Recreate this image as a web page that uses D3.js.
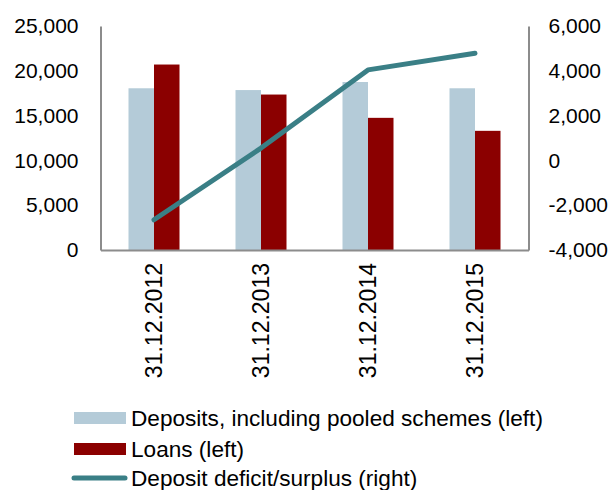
<!DOCTYPE html>
<html><head><meta charset="utf-8">
<script src="https://cdn.jsdelivr.net/npm/d3@7"></script>
<style>body{margin:0;background:#fff}svg{display:block;font-family:"Liberation Sans",Arial,sans-serif}</style>
</head><body><svg id="c" width="614" height="490"></svg>
<script>
const categories = ["31.12.2012","31.12.2013","31.12.2014","31.12.2015"];
const deposits = [18050, 17850, 18750, 18050];
const loans = [20700, 17350, 14750, 13300];
const surplus = [-2650, 550, 4040, 4780];
const leftTicks = [0, 5000, 10000, 15000, 20000, 25000];
const rightTicks = [-4000, -2000, 0, 2000, 4000, 6000];
const seriesNames = ["Deposits, including pooled schemes (left)", "Loans (left)", "Deposit deficit/surplus (right)"];
const colors = ["#b4cbd8", "#8b0000", "#3a7f86"];

const svg = d3.select("#c");
const L = 100.5, R = 528.5, T = 26, B = 250;
const x = d3.scaleBand().domain(categories).range([L, R]);
const yL = d3.scaleLinear().domain([0, 25000]).range([B, T]);
const yR = d3.scaleLinear().domain([-4000, 6000]).range([B, T]);
const fmt = d => d3.format(",")(d).replace("\u2212", "-");

// bars
const bw = 25.5;
const sub = d3.scaleBand().domain([0,1]).range([x.bandwidth()/2 - bw, x.bandwidth()/2 + bw]);
[deposits, loans].forEach((arr, si) => {
  svg.append("g").selectAll("rect").data(arr).join("rect")
    .attr("x", (d,i) => x(categories[i]) + sub(si))
    .attr("width", sub.bandwidth())
    .attr("y", d => yL(d))
    .attr("height", d => yL(0) - yL(d))
    .attr("fill", colors[si]);
});

// axes
const axCol = "#8c8c8c";
const gl = svg.append("g").attr("transform", `translate(${L},0)`)
  .call(d3.axisLeft(yL).tickValues(leftTicks).tickFormat(fmt).tickSize(0).tickPadding(22));
const gr = svg.append("g").attr("transform", `translate(${R},0)`)
  .call(d3.axisRight(yR).tickValues(rightTicks).tickFormat(fmt).tickSize(0).tickPadding(20));
const gb = svg.append("g").attr("transform", `translate(0,${B})`)
  .call(d3.axisBottom(x).tickSize(0).tickFormat(""));
[gl, gr, gb].forEach(g => {
  g.select(".domain").attr("stroke", axCol).attr("stroke-width", 2);
  g.selectAll("text").attr("font-size", 21).attr("fill", "#000")
   .attr("font-family", '"Liberation Sans",Arial,sans-serif');
});

// x labels rotated
svg.append("g").selectAll("text").data(categories).join("text")
  .attr("transform", d => `translate(${x(d) + x.bandwidth()/2},263) rotate(-90)`)
  .attr("text-anchor", "end").attr("dy", "0.35em")
  .attr("font-size", 23).text(d => d);

// line
const line = d3.line().x((d,i) => x(categories[i]) + x.bandwidth()/2).y(d => yR(d));
svg.append("path").datum(surplus).attr("d", line)
  .attr("fill", "none").attr("stroke", colors[2]).attr("stroke-width", 5)
  .attr("stroke-linecap", "round").attr("stroke-linejoin", "round");

// legend
const rows = [418, 449, 478];
const lg = svg.append("g");
seriesNames.forEach((n, i) => {
  if (i < 2) {
    lg.append("rect").attr("x", 74).attr("y", rows[i] - 6).attr("width", 52).attr("height", 12).attr("fill", colors[i]);
  } else {
    lg.append("line").attr("x1", 74).attr("x2", 125).attr("y1", rows[i]).attr("y2", rows[i])
      .attr("stroke", colors[i]).attr("stroke-width", 5).attr("stroke-linecap", "round");
  }
  lg.append("text").attr("x", 131).attr("y", rows[i]).attr("dy", "0.35em")
    .attr("font-size", 22.6).text(n);
});
</script></body></html>
